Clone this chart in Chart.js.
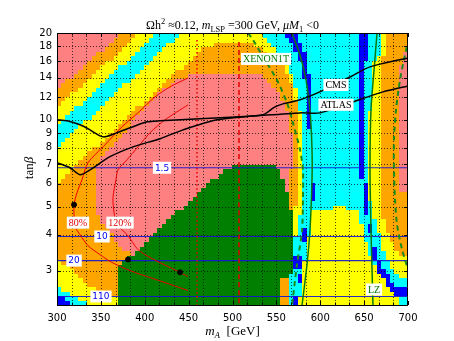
<!DOCTYPE html>
<html>
<head>
<meta charset="utf-8">
<script src="https://cdn.jsdelivr.net/npm/chart.js@4.4.1/dist/chart.umd.min.js"></script>
<style>
  html, body { margin: 0; padding: 0; background: #fff; }
</style>
</head>
<body>
<canvas id="chart" width="454" height="341"></canvas>
<script>
// axis ranges and ticks
const X_MIN = 300, X_MAX = 700;
const Y_MIN = 2.28, Y_MAX = 20;
const xTickValues = [300, 350, 400, 450, 500, 550, 600, 650, 700];
const yTickValues = [3, 4, 5, 6, 7, 8, 9, 10, 12, 14, 16, 18, 20];
const scanStepMA = 5;      // GeV per scan column
const scanRowsTanb = 60;   // log-spaced scan rows

// region outlines, [mA, tanb]
const orangeOuter = [[290,12.7],[300,12.7],[374,20],[374,25],[705,25],[705,19.2],[694.3,16.79],[690.9,14.31],[689.7,10.41],[689.7,6.71],[692,5.73],[705,5.35],[705,2],[290,2]];
const yellowOuter = [[290,11.0],[300,11.0],[394.6,20],[394.6,25],[677.2,25],[677.2,20],[675,17.47],[670.4,15.75],[668.1,14.31],[668.1,5.29],[672.7,4.44],[679.5,3.85],[688.6,3.49],[705,3.3],[705,2],[290,2]];
const cyanOuter = [[290,9.53],[300,9.53],[414,20],[414,25],[670.4,25],[670.4,20],[668.1,16.79],[660.1,15.5],[657.8,11.73],[655.5,6.2],[657.8,5.08],[665.8,4.3],[672.7,3.55],[679.5,3.15],[688.6,2.91],[705,2.78],[705,2],[290,2]];
const yellowInner = [[290,8.0],[300,8.0],[441.3,20],[441.3,25],[531.3,25],[531.3,20],[545,18.18],[556.4,16.39],[565.5,14.89],[572.4,12.91],[576.9,11.27],[579.2,9.23],[580.3,7.27],[581.5,6.2],[579.2,5.08],[575.8,4.44],[572.4,3.85],[567.8,3.41],[566.7,2.91],[565.5,2],[290,2]];
const yellowFunnel = [[589.4,4.80],[611.1,4.96],[628.2,5.0],[639.6,4.88],[645.3,4.80],[649.8,4.10],[657.8,3.41],[664.7,3.07],[672.7,2.84],[680.6,2.62],[687.5,2.42],[690.9,2],[575.8,2],[576.9,2.38],[580.3,2.80],[582.6,3.28],[586,3.69],[589.4,4.16]];
const orangeInner = [[290,6.05],[300,6.05],[349,8.32],[394.6,11.18],[428.8,13.97],[451.6,16.13],[468.7,17.75],[485.8,18.62],[508.5,18.77],[525.6,18.32],[537,17.47],[548.4,16.39],[558.7,15.13],[566.7,13.53],[572.4,11.73],[575.8,9.61],[576.9,7.88],[575.8,6.45],[573.5,5.29],[570.1,4.33],[566.7,3.55],[564.4,2.91],[562.1,2],[374.1,2],[371.8,2.38],[352.4,2.52],[337.6,2.66],[322.8,2.89],[311.4,3.13],[300,3.33],[290,3.33]];
const pinkInner = [[345.6,6.61],[349,7.27],[360.4,8.0],[374.1,8.87],[388.9,10],[406,11.36],[423.1,12.91],[440.2,13.97],[463,14.54],[497.2,14.66],[525.6,14.54],[537,14.08],[548.4,13.01],[557.5,11.73],[564.4,10.41],[567.8,8.87],[567.8,7.27],[566.7,5.73],[565.5,4.69],[562.1,4.23],[557.5,4.0],[548.4,3.85],[406,3.23],[388.9,3.38],[379.8,3.49],[369.5,3.78],[360.4,4.10],[353.6,4.33],[346.7,4.69],[344.4,5.08],[343.3,5.96]];
const greenRegion = [[502.8,7.04],[548.4,7.04],[554.1,6.61],[559.8,6.2],[563.2,5.59],[567.8,4.88],[567.8,2.91],[557.5,2.84],[555.3,2],[371.8,2],[371.8,3.13],[379.8,3.28],[388.9,3.49],[400.3,3.75],[411.7,4.06],[419.7,4.26],[428.8,4.54],[443.6,5.0],[459.5,5.59],[472.1,6.15],[488,6.5],[497.2,6.82]];
const cyanCorner = [[290,2.62],[300,2.62],[309.1,2.58],[317.1,2.48],[326.2,2.38],[335.3,2.31],[340,2.2],[340,2],[290,2]];
const blueCorner = [[290,2.46],[300,2.46],[309.1,2.42],[314.8,2.35],[320.5,2.27],[321,2],[290,2]];
const blueLeftTop = [[557.5,25],[573.5,25],[573.5,20],[579.2,18.47],[586,15.75],[591.7,12.01],[591.7,9.23],[587.2,9.23],[586,12.01],[579.2,15.75],[568.9,18.47],[557.5,20]];
const blueLeftBits = [[588.3,5.15,594,6.1],[580.3,3.85,586,4.26],[571.2,3.07,579.2,3.41],[573.5,2.69,579.2,2.98],[567.8,2,573.5,2.48]];
const blueRight = [[645.3,25],[645.3,20],[643,16.13],[643,6.45],[648.7,6.2],[649.8,4.96],[654.4,4.51],[656.7,4.10],[664.7,3.44],[671.5,3.10],[679.5,2.86],[687.5,2.64],[705,2.62],[705,2.46],[687.5,2.48],[679.5,2.62],[671.5,2.84],[664.7,3.07],[661.3,3.44],[659,4.10],[655.5,4.80],[654.4,5.29],[652.1,6.30],[651,10],[652.1,16.13],[657.8,20],[657.8,25]];

// curves
const contour80 = [[449.3,13.97],[428.8,13.01],[411.7,12.01],[392.3,10.57],[374.1,9.46],[354.7,8.19],[335.3,7.10],[328.5,6.20],[322.8,5.59],[319.4,5.08],[319.4,4.69],[320.5,4.26],[326.2,4.0],[335.3,3.66],[349,3.41],[360.4,3.23],[375.2,3.07],[392.3,2.93],[406,2.84],[449.3,2.56]];
const contour120 = [[449.3,11.27],[423.1,10],[406,9.02],[392.3,8.06],[379.8,7.27],[369.5,6.71],[367.2,6.20],[363.8,5.37],[365,4.77],[368.4,4.33],[379.8,4.0],[392.3,3.55],[406,3.33],[437.9,2.98],[449.3,2.86]];
const atlasLine = [[300,10],[311.4,9.92],[326.2,9.61],[337.6,9.23],[349,8.80],[354.7,8.73],[368.4,9.02],[386.6,9.46],[402.6,9.84],[417.4,9.92],[508.5,10.24],[576.9,10.57],[599.7,10.57],[637.3,11.54],[671.5,12.50],[700,13.11]];
const cmsLine = [[300,7.10],[314.8,6.82],[326.2,6.45],[337.6,6.71],[360.4,7.45],[386.6,8.06],[417.4,8.60],[443.6,9.23],[482.3,10],[534.8,10.41],[540.5,10.66],[548.4,11.09],[557.5,11.36],[576.9,11.73],[602,12.60],[633.9,14.08],[656.7,15.26],[700,16.39]];
const xenonLeft = [[517.7,20],[523.4,18.92],[537,16.13],[550.7,13.75],[562.1,11.45],[568.9,9.76],[576.9,7.88],[580.3,6.71],[580.3,5.29],[579.2,4.10],[573.5,3.15],[568.9,2.42],[567.8,2.27]];
const xenonRight = [[701,19.22],[696.6,16.79],[690.9,13.75],[686.3,10.83],[684,8.53],[684,6.71],[685.2,5.29],[687.5,4.33],[693.2,3.55],[700,3.03]];
const lzLeft = [[567.8,20],[576.9,16.79],[583.8,13.75],[588.3,10.83],[590.6,7.88],[590.6,6.20],[588.3,4.16],[584.9,3.15],[579.2,2.27]];
const lzRight = [[664.7,20],[661.3,14.89],[657.8,10.83],[656.7,6.71],[657.8,4.16],[659,3.03],[660.1,2.27]];
const mAdotted = [[459.5,18.9],[459.5,2.2]];
const mAdashed = [[507.4,18.6],[507.4,2.2]];
const blueContours = [[6.82,'1.5',419.7],[3.94,'10',351.3],[3.25,'20',319.4],[2.44,'110',350.1]];
const benchmarkPoints = [[319.4,5.08],[380.9,3.28],[440.2,2.96]];

const PINK = '#ff8080', ORANGE = '#ffa500', YELLOW = '#ffff00', CYAN = '#00ffff', BLUE = '#0000ff', GREEN = '#007f00';

const rect = r => [[r[0],r[1]],[r[2],r[1]],[r[2],r[3]],[r[0],r[3]]];
const layers = [
  [orangeOuter, ORANGE], [yellowOuter, YELLOW], [cyanOuter, CYAN], [yellowInner, YELLOW],
  [yellowFunnel, YELLOW], [orangeInner, ORANGE], [pinkInner, PINK], [greenRegion, GREEN],
  [cyanCorner, CYAN], [blueCorner, BLUE], [blueLeftTop, BLUE], [blueRight, BLUE]
].concat(blueLeftBits.map(r => [rect(r), BLUE]))
 .map(l => ({ poly: l[0].map(p => [p[0], Math.log10(p[1])]), color: l[1] }));

function inside(poly, x, ly) {
  let c = false;
  for (let i = 0, j = poly.length - 1; i < poly.length; j = i++) {
    const [xi, yi] = poly[i], [xj, yj] = poly[j];
    if ((yi > ly) !== (yj > ly) && x < (xj - xi) * (ly - yi) / (yj - yi) + xi) c = !c;
  }
  return c;
}
function cellColor(m, ly) {
  for (let k = layers.length - 1; k >= 0; k--) {
    if (inside(layers[k].poly, m, ly)) return layers[k].color;
  }
  return PINK;
}

// scan cells + dotted grid, under the curves
const heatmap = {
  id: 'heatmap',
  beforeDraw(chart) {
    const { ctx, chartArea: a, scales: { x, y } } = chart;
    ctx.save();
    ctx.beginPath();
    ctx.rect(a.left, a.top, a.right - a.left, a.bottom - a.top);
    ctx.clip();
    const l0 = Math.log10(Y_MIN), l1 = Math.log10(Y_MAX);
    for (let m0 = X_MIN; m0 < X_MAX; m0 += scanStepMA) {
      const px0 = Math.floor(x.getPixelForValue(m0)), px1 = Math.ceil(x.getPixelForValue(m0 + scanStepMA));
      for (let j = 0; j < scanRowsTanb; j++) {
        const a0 = l0 + (l1 - l0) * j / scanRowsTanb, a1 = l0 + (l1 - l0) * (j + 1) / scanRowsTanb;
        const py0 = Math.ceil(y.getPixelForValue(10 ** a0)), py1 = Math.floor(y.getPixelForValue(10 ** a1));
        ctx.fillStyle = cellColor(m0 + scanStepMA / 2, (a0 + a1) / 2);
        ctx.fillRect(px0, py1, px1 - px0, py0 - py1);
      }
    }
    ctx.strokeStyle = 'rgba(0,0,0,0.7)';
    ctx.lineWidth = 1;
    ctx.setLineDash([1, 2]);
    for (let k = 1; k < 24; k++) {
      const px = Math.round(x.getPixelForValue(X_MIN + k * 50 / 3)) + 0.5;
      ctx.beginPath(); ctx.moveTo(px, a.top); ctx.lineTo(px, a.bottom); ctx.stroke();
    }
    yTickValues.forEach(v => {
      const py = Math.round(y.getPixelForValue(v)) + 0.5;
      ctx.beginPath(); ctx.moveTo(a.left, py); ctx.lineTo(a.right, py); ctx.stroke();
    });
    ctx.restore();
  }
};

function boxLabel(ctx, text, font, color, px, py) {
  ctx.font = font;
  const w = ctx.measureText(text).width;
  ctx.fillStyle = '#fff';
  ctx.fillRect(px - w / 2 - 2, py - 6, w + 4, 12);
  ctx.fillStyle = color;
  ctx.textAlign = 'center';
  ctx.textBaseline = 'middle';
  ctx.fillText(text, px, py + 0.5);
}
function richText(ctx, parts, cx, base) {
  let w = 0;
  parts.forEach(p => { ctx.font = p[1]; w += ctx.measureText(p[0]).width; });
  let xx = cx - w / 2;
  ctx.textAlign = 'left';
  ctx.textBaseline = 'alphabetic';
  parts.forEach(p => { ctx.font = p[1]; ctx.fillText(p[0], xx, base + (p[2] || 0)); xx += ctx.measureText(p[0]).width; });
}

const SERIF = 'Liberation Serif';
const decorations = {
  id: 'decorations',
  afterDatasetsDraw(chart) {
    const { ctx, scales: { x, y } } = chart;
    ctx.save();
    blueContours.forEach(c => boxLabel(ctx, c[1], '9px DejaVu Sans', '#0000ee', x.getPixelForValue(c[2]), y.getPixelForValue(c[0])));
    boxLabel(ctx, '80%', `10px ${SERIF}`, '#e00000', x.getPixelForValue(323.9), y.getPixelForValue(4.40));
    boxLabel(ctx, '120%', `10px ${SERIF}`, '#e00000', x.getPixelForValue(371.8), y.getPixelForValue(4.40));
    boxLabel(ctx, 'XENON1T', `10px ${SERIF}`, '#007a00', x.getPixelForValue(538.2), y.getPixelForValue(16.26));
    boxLabel(ctx, 'CMS', `10px ${SERIF}`, '#000', x.getPixelForValue(617.9), y.getPixelForValue(13.21));
    boxLabel(ctx, 'ATLAS', `10px ${SERIF}`, '#000', x.getPixelForValue(617.9), y.getPixelForValue(11.27));
    boxLabel(ctx, 'LZ', `10px ${SERIF}`, '#007a00', x.getPixelForValue(661.3), y.getPixelForValue(2.58));
    ctx.restore();
  },
  afterDraw(chart) {
    const { ctx, chartArea: a, scales: { x, y } } = chart;
    ctx.save();
    ctx.strokeStyle = '#000';
    ctx.lineWidth = 1;
    ctx.strokeRect(a.left + 0.5, a.top + 0.5, a.right - a.left - 1, a.bottom - a.top);
    for (let k = 0; k <= 24; k++) {
      const v = X_MIN + k * 50 / 3;
      const px = Math.round(x.getPixelForValue(v)) + 0.5;
      const len = k % 3 === 0 ? 4 : 2.5;
      ctx.beginPath();
      ctx.moveTo(px, a.bottom); ctx.lineTo(px, a.bottom - len);
      ctx.moveTo(px, a.top); ctx.lineTo(px, a.top + len);
      ctx.stroke();
    }
    yTickValues.forEach(v => {
      const py = Math.round(y.getPixelForValue(v)) + 0.5;
      ctx.beginPath();
      ctx.moveTo(a.left, py); ctx.lineTo(a.left + 4, py);
      ctx.moveTo(a.right, py); ctx.lineTo(a.right - 4, py);
      ctx.stroke();
    });
    ctx.fillStyle = '#000';
    richText(ctx, [
      ['\u03A9h', `12px ${SERIF}`], ['2', `8.5px ${SERIF}`, -5], [' \u22480.12, ', `12px ${SERIF}`],
      ['m', `italic 12px ${SERIF}`], ['LSP', `8.5px ${SERIF}`, 2.5], [' =300 GeV, ', `12px ${SERIF}`],
      ['\u03BCM', `italic 12px ${SERIF}`], ['1', `8.5px ${SERIF}`, 2.5], [' <0', `12px ${SERIF}`]
    ], (a.left + a.right) / 2, 29);
    richText(ctx, [['m', `italic 13px ${SERIF}`], ['A', `italic 9px ${SERIF}`, 3], ['  [GeV]', `13px ${SERIF}`]], (a.left + a.right) / 2, 335);
    ctx.translate(33, 168);
    ctx.rotate(-Math.PI / 2);
    richText(ctx, [['tan', `13px ${SERIF}`], ['\u03B2', `italic 13px ${SERIF}`]], 0, 0);
    ctx.restore();
  }
};

const xy = arr => arr.map(p => ({ x: p[0], y: p[1] }));
const line = (pts, color, width, dash, order) => ({
  type: 'line', data: xy(pts), borderColor: color, borderWidth: width, borderDash: dash || [],
  pointRadius: 0, fill: false, tension: 0.25, order: order, clip: 0
});

const datasets = [];
blueContours.forEach(c => datasets.push(line([[X_MIN, c[0]], [X_MAX, c[0]]], 'rgba(20,20,210,0.9)', 1.1, null, 9)));
datasets.push(line(mAdotted, '#e00000', 1.5, [1.5, 2.5], 8));
datasets.push(line(mAdashed, '#e00000', 1.5, [5, 3], 8));
datasets.push(line(contour80, '#ee0000', 1, null, 7));
datasets.push(line(contour120, '#ee0000', 1, null, 7));
datasets.push(line(xenonLeft, '#1a8a1a', 2, [5, 4], 6));
datasets.push(line(xenonRight, '#1a8a1a', 2, [5, 4], 6));
datasets.push(line(lzLeft, '#0b7a0b', 1.5, null, 5));
datasets.push(line(lzRight, '#0b7a0b', 1.5, null, 5));
datasets.push(line(cmsLine, '#000', 1.5, null, 4));
datasets.push(line(atlasLine, '#000', 1.5, null, 4));
datasets.push({ type: 'scatter', data: xy(benchmarkPoints), backgroundColor: '#000', borderColor: '#000', pointRadius: 2.5, order: 1, clip: 0 });

new Chart(document.getElementById('chart'), {
  type: 'line',
  data: { datasets: datasets },
  options: {
    responsive: false,
    devicePixelRatio: 1,
    animation: false,
    events: [],
    layout: { padding: { left: 0, right: 46, top: 33, bottom: 0 } },
    plugins: { legend: { display: false }, tooltip: { enabled: false } },
    scales: {
      x: {
        type: 'linear', min: X_MIN, max: X_MAX,
        grid: { display: false, drawTicks: false },
        border: { display: false },
        afterBuildTicks: s => { s.ticks = xTickValues.map(v => ({ value: v })); },
        afterFit: s => { s.height = 36; },
        ticks: { color: '#000', padding: 7, autoSkip: false, maxRotation: 0, font: { family: 'DejaVu Sans', size: 10 } }
      },
      y: {
        type: 'logarithmic', min: Y_MIN, max: Y_MAX,
        grid: { display: false, drawTicks: false },
        border: { display: false },
        afterBuildTicks: s => { s.ticks = yTickValues.map(v => ({ value: v })); },
        afterFit: s => { s.width = 57; },
        ticks: { color: '#000', padding: 5, autoSkip: false, callback: v => String(v), font: { family: 'DejaVu Sans', size: 10 } }
      }
    }
  },
  plugins: [heatmap, decorations]
});
</script>
</body>
</html>
